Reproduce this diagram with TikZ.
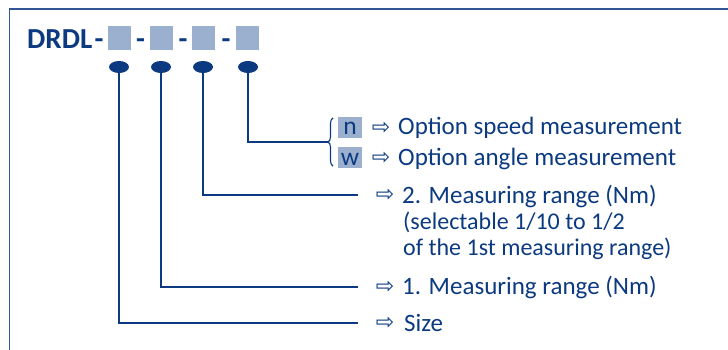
\documentclass[tikz,border=0pt]{standalone}
\usepackage{fontspec}
\setmainfont{Carlito}
\newfontfamily\symfont{DejaVu Sans}
\usetikzlibrary{shapes.geometric,decorations.pathreplacing}

\definecolor{navy}{RGB}{12,58,128}
\definecolor{slot}{RGB}{155,176,207}

\tikzset{
	slotbox/.style={fill=slot, minimum width=23pt, minimum height=24pt, inner sep=0},
	pin/.style={ellipse, fill=navy, minimum width=20pt, minimum height=12pt, inner sep=0},
	lead/.style={navy, line width=1.1pt},
	arw/.style={inner sep=0, text=navy, font=\symfont\fontsize{22}{24}\selectfont},
	item/.style={anchor=base west, inner sep=0, text=navy, font=\fontsize{25}{28}\selectfont},
	note/.style={anchor=base west, inner sep=0, text=navy, font=\fontsize{24}{26}\selectfont},
	letter/.style={fill=slot, inner sep=0, minimum width=24pt, text height=18pt, text depth=3pt,
		anchor=base, text=navy, font=\fontsize{25.5}{28}\selectfont},
	code/.style={anchor=base, inner sep=0, text=navy, font=\bfseries\fontsize{29}{32}\selectfont}
}

\begin{document}
\begin{tikzpicture}[x=1pt,y=-1pt]
		\useasboundingbox (0,0) rectangle (728,350);

		% frame
		\draw[navy!85, line width=1pt] (9,350) -- (9,9);
		\draw[navy!85, line width=1.5pt] (9,9) -- (728,9);

		% type code
		\node[code, anchor=base west] (drdl) at (27,49) {DRDL};
		\node[code] (d1) at (99,49) {-};
		\node[slotbox] (s1) at (119.5,38) {};
		\node[code] (d2) at (140.5,49) {-};
		\node[slotbox] (s2) at (161.5,38) {};
		\node[code] (d3) at (183,49) {-};
		\node[slotbox] (s3) at (203.5,38) {};
		\node[code] (d4) at (226,49) {-};
		\node[slotbox] (s4) at (247.5,38) {};

		\node[pin] (p1) at (119,67) {};
		\node[pin] (p2) at (161,67) {};
		\node[pin] (p3) at (203,67) {};
		\node[pin] (p4) at (248,67) {};

		% options
		\draw[lead, decorate, decoration={brace, amplitude=5pt}] (333,166) -- (333,118);
		\coordinate (brc) at (328,142);
		\node[letter] (n) at (350,135) {n};
		\node[letter] (w) at (350,165) {w};
		\node[arw] (an) at (381,128) {⇨};
		\node[arw] (aw) at (381,158) {⇨};
		\node[item] (tn) at (398,135) {Option speed measurement};
		\node[item] (tw) at (398,165) {Option angle measurement};

		% 2nd range
		\coordinate (c3) at (358,195);
		\node[arw] (a3) at (385,195) {⇨};
		\node[item] (t3) at (402,203) {2. Measuring range (Nm)};
		\node[note] (t3b) at (403,229) {(selectable 1/10 to 1/2};
		\node[note] (t3c) at (403,255) {of the 1st measuring range)};

		% 1st range
		\coordinate (c2) at (358,287);
		\node[arw] (a2) at (385,287) {⇨};
		\node[item] (t2) at (402,294) {1. Measuring range (Nm)};

		% size
		\coordinate (c1) at (358,323);
		\node[arw] (a1) at (385,323) {⇨};
		\node[item] (t1) at (404,331) {Size};

		\draw[lead] (p4) |- (brc);
		\draw[lead] (p3) |- (c3);
		\draw[lead] (p2) |- (c2);
		\draw[lead] (p1) |- (c1);
	\end{tikzpicture}
\end{document}
